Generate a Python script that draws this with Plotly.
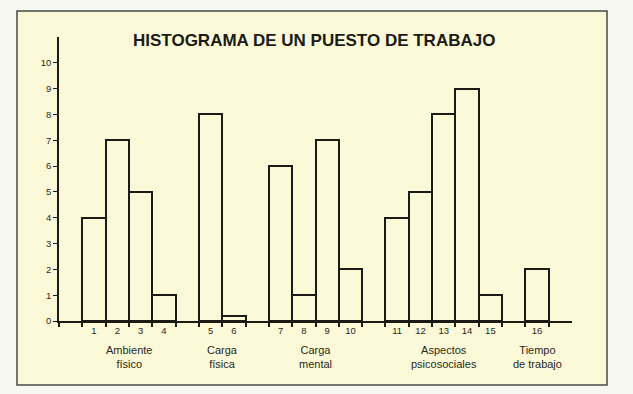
import plotly.graph_objects as go

# Data
bar_labels = [str(i) for i in range(1, 17)]
bar_positions = [1, 2, 3, 4, 6, 7, 9, 10, 11, 12, 14, 15, 16, 17, 18, 20]
bar_values = [4, 7, 5, 1, 8, 0.2, 6, 1, 7, 2, 4, 5, 8, 9, 1, 2]
group_names = ["Ambiente<br>físico", "Carga<br>física", "Carga<br>mental",
               "Aspectos<br>psicosociales", "Tiempo<br>de trabajo"]
group_centers = [2.5, 6.5, 10.5, 16, 20]
y_ticks = list(range(0, 11))

W, H = 633, 394
L, R, T, B = 59, 61, 37, 73
pw, ph = W - L - R, H - T - B

def px_to_paper_x(px):
    return (px - L) / pw

def px_to_paper_y(py):
    return (H - B - py) / ph

ink = "#1c1a14"
font_fam = "Liberation Sans, Arial, Helvetica, sans-serif"

fig = go.Figure()
fig.add_trace(go.Bar(
    x=bar_positions, y=bar_values, width=1,
    marker=dict(color="rgba(0,0,0,0)", line=dict(color=ink, width=2)),
    hoverinfo="skip", showlegend=False,
))

edges = sorted(set([p - 0.5 for p in bar_positions] + [p + 0.5 for p in bar_positions] + [-0.5]))

fig.update_layout(
    width=W, height=H,
    margin=dict(l=L, r=R, t=T, b=B),
    paper_bgcolor="#f7f7f2",
    plot_bgcolor="rgba(0,0,0,0)",
    font=dict(family=font_fam, color="#2a2820"),
    bargap=0,
    xaxis=dict(
        range=[-0.5, 21.5], showgrid=False, zeroline=False,
        showline=True, linecolor=ink, linewidth=1.5,
        tickvals=bar_positions, ticktext=bar_labels, ticks="",
        tickfont=dict(size=9.5, color="#2a2820"),
        minor=dict(tickvals=edges, ticks="outside", ticklen=4, tickcolor=ink, tickwidth=1.5),
    ),
    yaxis=dict(
        range=[0, 11], showgrid=False, zeroline=False,
        showline=True, linecolor=ink, linewidth=1.5,
        tickvals=y_ticks, ticks="outside", ticklen=4, tickcolor=ink, tickwidth=1,
        tickfont=dict(size=9.5, color="#2a2820"),
    ),
    shapes=[dict(
        type="rect", xref="paper", yref="paper", layer="below",
        x0=px_to_paper_x(17), x1=px_to_paper_x(607),
        y0=px_to_paper_y(385), y1=px_to_paper_y(11),
        fillcolor="#fbf9d7", line=dict(color="#4a4a44", width=1.5),
    )],
)

fig.add_annotation(
    text="<b>HISTOGRAMA DE UN PUESTO DE TRABAJO</b>",
    xref="paper", yref="paper", x=px_to_paper_x(313.5), y=px_to_paper_y(40.5),
    xanchor="center", yanchor="middle", showarrow=False,
    font=dict(size=17, color=ink, family=font_fam),
)

for name, c in zip(group_names, group_centers):
    fig.add_annotation(
        text=name, x=c, xref="x", yref="paper", y=px_to_paper_y(342),
        xanchor="center", yanchor="top", showarrow=False,
        font=dict(size=11, color="#2a2820", family=font_fam),
    )

fig.write_html(
    "out.html",
    config={"displayModeBar": False},
    post_script="document.body.style.margin='0';document.body.style.background='#f7f7f2';",
)
